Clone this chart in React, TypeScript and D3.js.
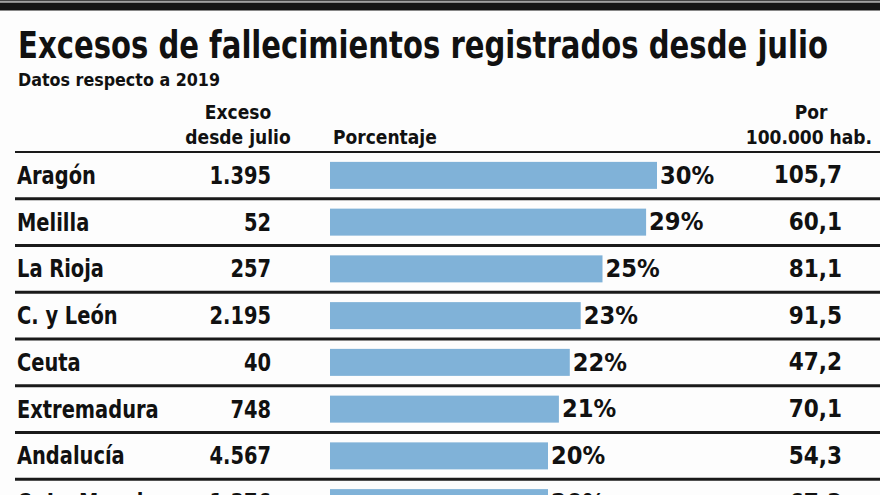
import React from "react";
import * as d3 from "d3";

const regions = ["Aragón", "Melilla", "La Rioja", "C. y León", "Ceuta", "Extremadura", "Andalucía", "C.-La Mancha"];
const exceso = ["1.395", "52", "257", "2.195", "40", "748", "4.567", "1.376"];
const porcentaje = [30, 29, 25, 23, 22, 21, 20, 20];
const por100k = ["105,7", "60,1", "81,1", "91,5", "47,2", "70,1", "54,3", "67,3"];

const title = "Excesos de fallecimientos registrados desde julio";
const subtitle = "Datos respecto a 2019";

const W = 880;
const H = 495;
const FONT = "'DejaVu Sans Condensed', 'DejaVu Sans', sans-serif";

function Cell({ x, y, anchor, sx = 0.9, children }: { x: number; y: number; anchor?: string; sx?: number; children: React.ReactNode }) {
  return (
    <text transform={`translate(${x},${y}) scale(${sx},1)`} textAnchor={anchor || "start"} dominantBaseline="central">
      {children}
    </text>
  );
}

export default function App() {
  const y = d3.scaleBand<string>().domain(regions).range([152, 152 + regions.length * 46.75]).padding(0);
  const x = d3.scaleLinear().domain([0, 30]).range([330, 657]);
  const bh = 27;
  return (
    <svg width={W} height={H} style={{ position: "absolute", left: 0, top: 0, background: "#fff" }} fontFamily={FONT}>
      <rect x={0} y={0} width={W} height={H} fill="#fdfdfd" />
      <rect x={0} y={0} width={W} height={1.5} fill="#444" />
      <rect x={0} y={2.5} width={W} height={8} fill="#151515" />
      <text x={18} y={58} fontSize={37} fontWeight={700} fill="#111" textLength={810} lengthAdjust="spacingAndGlyphs">{title}</text>
      <text x={18} y={86} fontSize={18} fontWeight={700} fill="#111" textLength={202} lengthAdjust="spacingAndGlyphs">{subtitle}</text>
      <g fontSize={19} fontWeight={700} fill="#111">
        <text x={238} y={119} textAnchor="middle">Exceso</text>
        <text x={238} y={144} textAnchor="middle">desde julio</text>
        <text x={333} y={144}>Porcentaje</text>
        <text x={811} y={119} textAnchor="middle">Por</text>
        <text x={872} y={144} textAnchor="end">100.000 hab.</text>
      </g>
      <line x1={15} x2={W} y1={152} y2={152} stroke="#1a1a1a" strokeWidth={2} />
      {regions.map((r, i) => {
        const top = y(r)!;
        const cy = top + y.bandwidth() / 2;
        return (
          <g key={r}>
            {i > 0 && <line x1={15} x2={W} y1={top} y2={top} stroke="#1a1a1a" strokeWidth={3} />}
            <rect x={x(0)} y={cy - bh / 2} width={x(porcentaje[i]) - x(0)} height={bh} fill="#80b2d8" />
            <g fontSize={24} fontWeight={700} fill="#111">
              <Cell x={17} y={cy}>{r}</Cell>
              <Cell x={271} y={cy} anchor="end">{exceso[i]}</Cell>
              <Cell x={x(porcentaje[i]) + 3} y={cy} sx={1.05}>{porcentaje[i]}%</Cell>
              <Cell x={842} y={cy} anchor="end" sx={1.0}>{por100k[i]}</Cell>
            </g>
          </g>
        );
      })}
    </svg>
  );
}
